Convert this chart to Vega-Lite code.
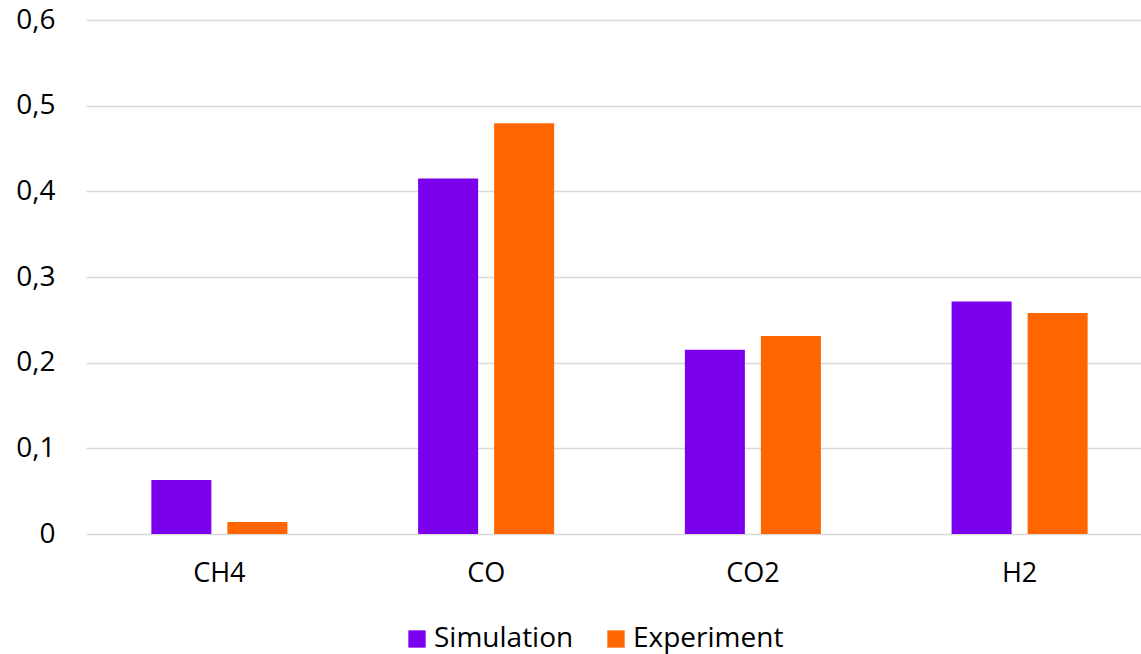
{
  "$schema": "https://vega.github.io/schema/vega-lite/v6.json",
  "autosize": "none",
  "width": 1055,
  "height": 514,
  "padding": {"left": 86, "top": 20, "right": 0, "bottom": 120},
  "background": "white",
  "config": {
    "view": {"stroke": null},
    "font": "Open Sans",
    "axis": {"labelFont": "Open Sans", "labelColor": "#000000"},
    "legend": {"labelFont": "Open Sans", "labelColor": "#000000"}
  },
  "data": {
    "values": [
      {"gas": "CH4", "series": "Simulation", "value": 0.063},
      {"gas": "CH4", "series": "Experiment", "value": 0.014},
      {"gas": "CO", "series": "Simulation", "value": 0.415},
      {"gas": "CO", "series": "Experiment", "value": 0.4795},
      {"gas": "CO2", "series": "Simulation", "value": 0.215},
      {"gas": "CO2", "series": "Experiment", "value": 0.231},
      {"gas": "H2", "series": "Simulation", "value": 0.2715},
      {"gas": "H2", "series": "Experiment", "value": 0.258}
    ]
  },
  "mark": {"type": "bar"},
  "encoding": {
    "x": {
      "field": "gas",
      "type": "nominal",
      "sort": ["CH4", "CO", "CO2", "H2"],
      "scale": {"range": [0, 1067], "paddingInner": 0.49, "paddingOuter": 0.245},
      "axis": {
        "title": null,
        "domain": false,
        "ticks": false,
        "labelAngle": 0,
        "labelFontSize": 27,
        "labelPadding": 26
      }
    },
    "xOffset": {
      "field": "series",
      "type": "nominal",
      "sort": ["Simulation", "Experiment"],
      "scale": {"paddingInner": 0.2105, "paddingOuter": 0}
    },
    "y": {
      "field": "value",
      "type": "quantitative",
      "scale": {"domain": [0, 0.6], "nice": false},
      "axis": {
        "title": null,
        "domain": false,
        "ticks": false,
        "values": [0, 0.1, 0.2, 0.3, 0.4, 0.5, 0.6],
        "labelExpr": "datum.value == 0 ? '0' : replace(format(datum.value, '.1f'), '.', ',')",
        "labelFontSize": 28,
        "labelPadding": 31,
        "gridColor": "#d9d9d9",
        "gridWidth": 1.3
      }
    },
    "color": {
      "field": "series",
      "type": "nominal",
      "sort": ["Simulation", "Experiment"],
      "scale": {"domain": ["Simulation", "Experiment"], "range": ["#7b00ee", "#ff6600"]},
      "legend": {
        "title": null,
        "orient": "none",
        "direction": "horizontal",
        "legendX": 317,
        "legendY": 605,
        "padding": 0,
        "symbolType": "square",
        "symbolSize": 300,
        "symbolStrokeWidth": 0,
        "symbolOpacity": 1,
        "labelFontSize": 28,
        "labelOffset": 3,
        "columnPadding": 28
      }
    }
  }
}
